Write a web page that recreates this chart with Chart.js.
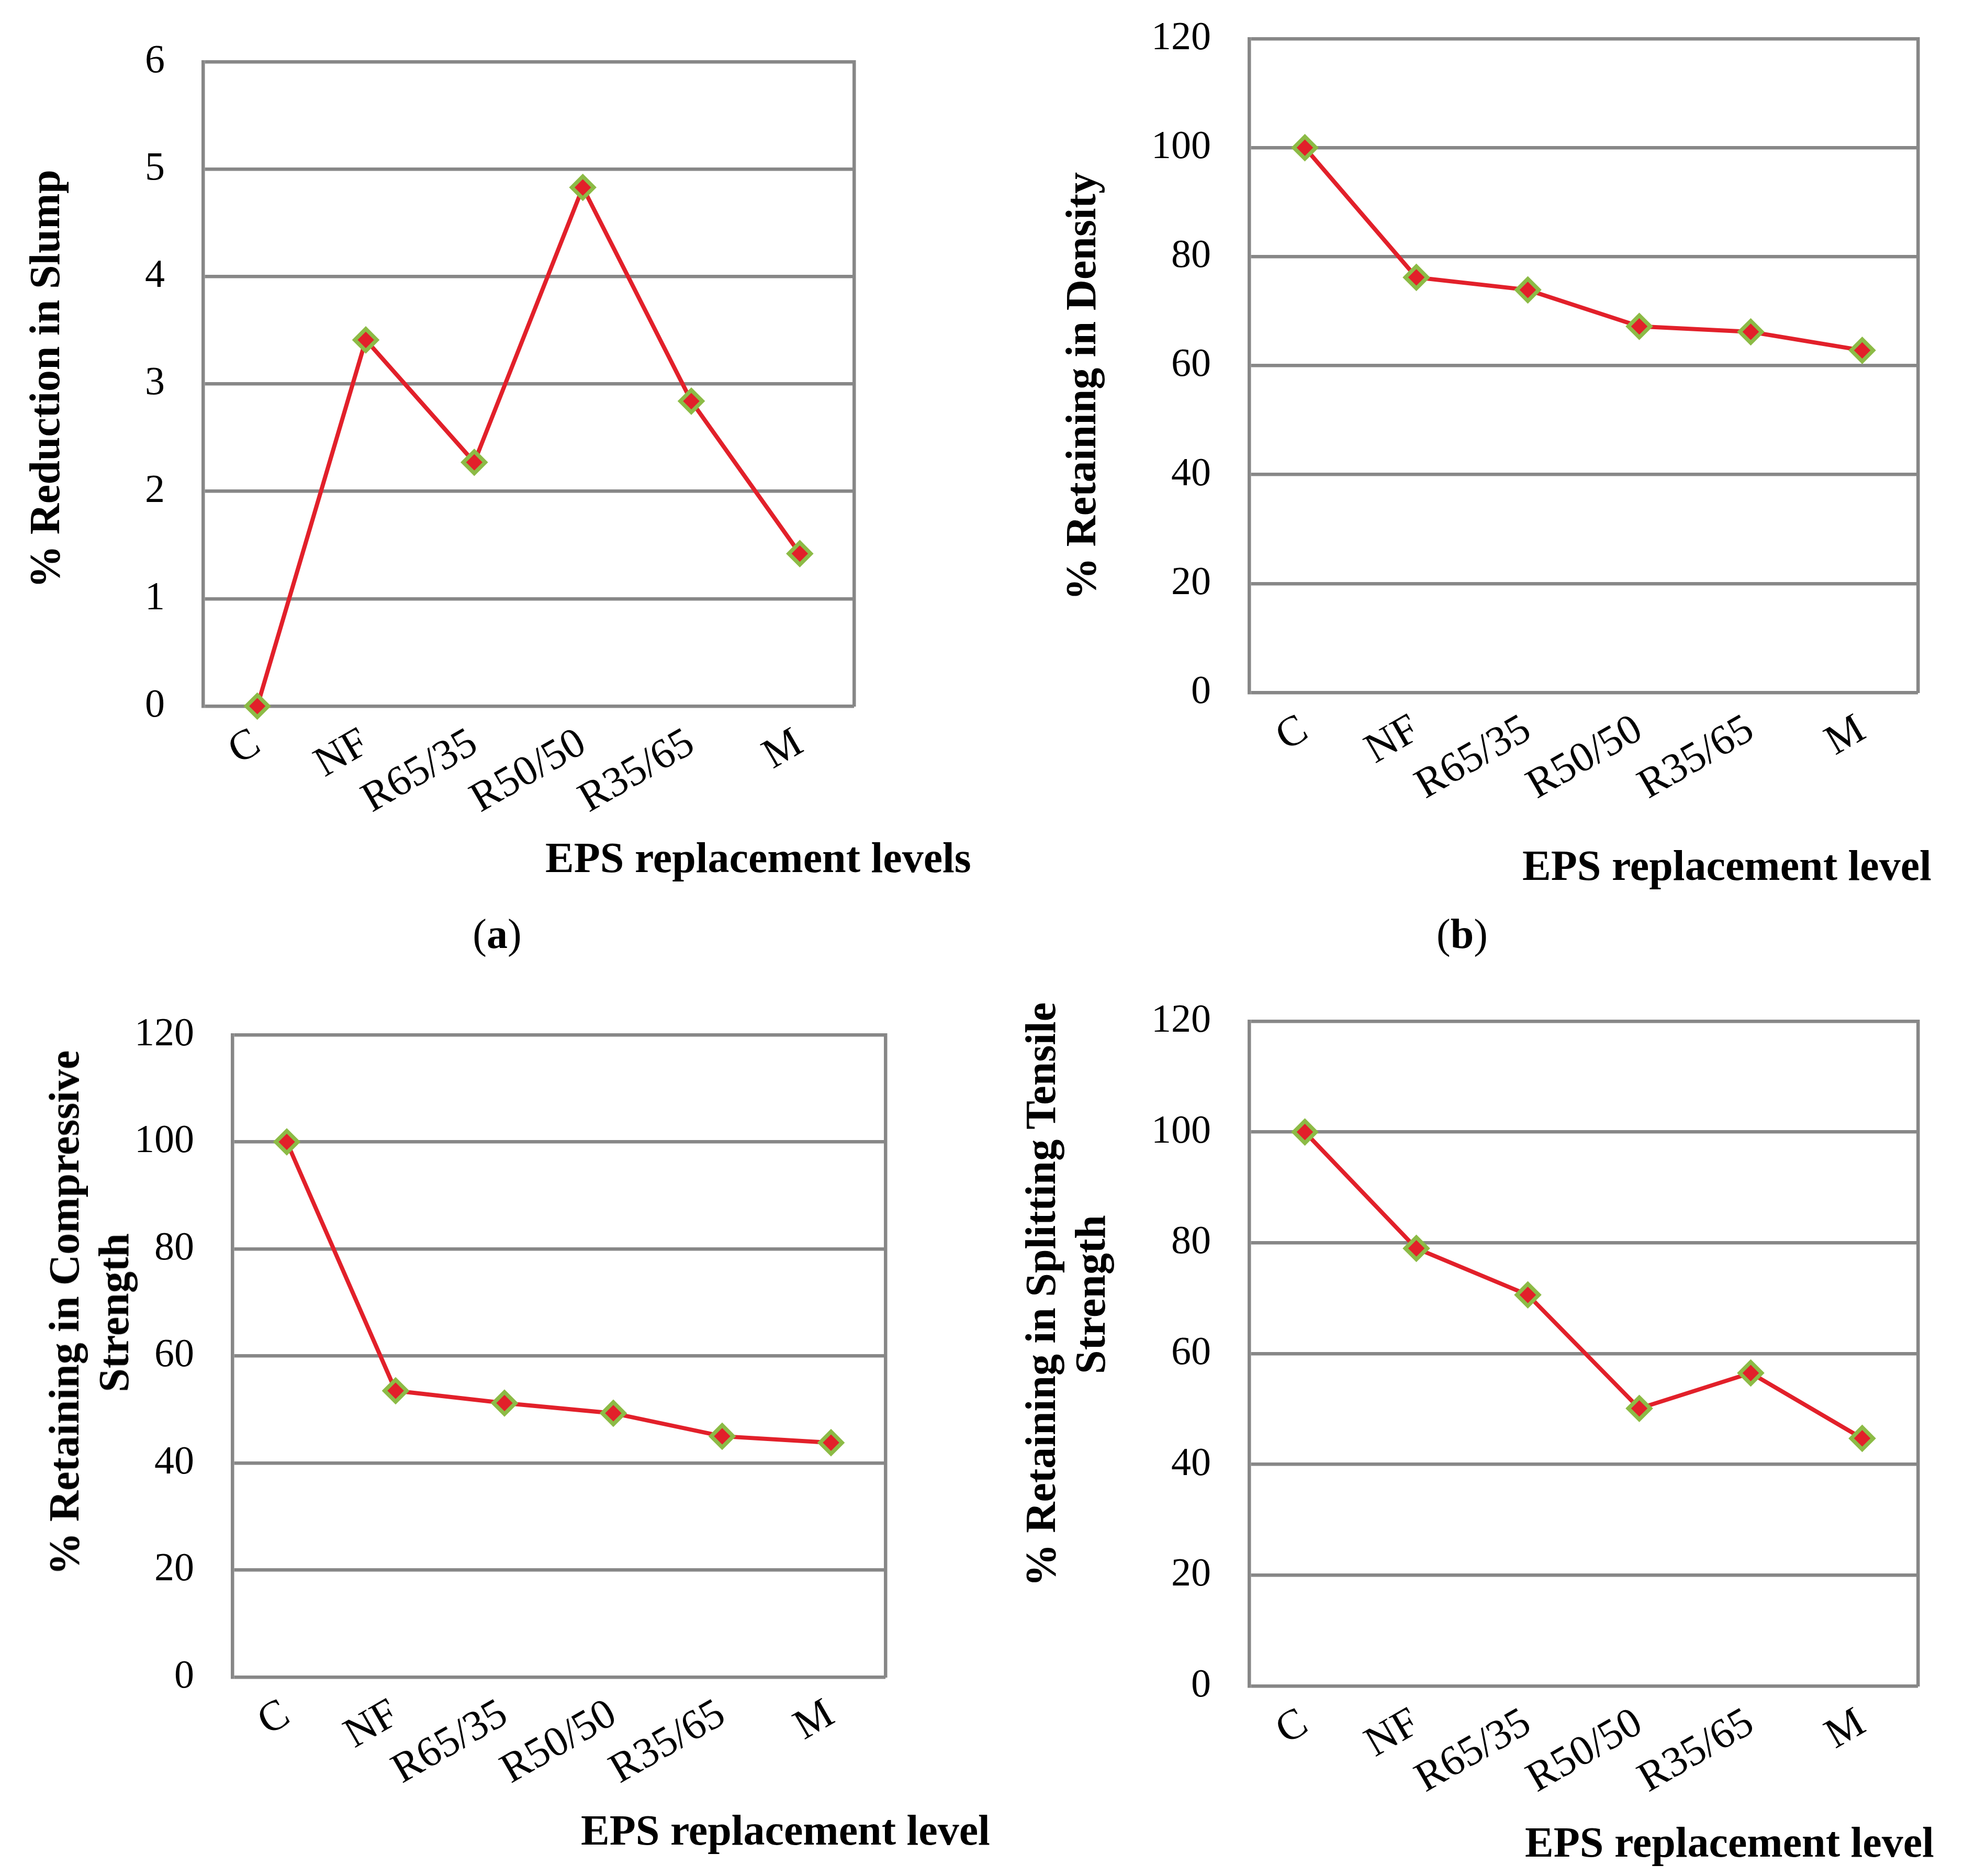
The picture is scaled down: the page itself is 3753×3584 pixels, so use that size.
<!DOCTYPE html>
<html>
<head>
<meta charset="utf-8">
<script src="https://cdn.jsdelivr.net/npm/chart.js@4.4.1/dist/chart.umd.min.js"></script>
<style>
    body { margin: 0; background: #fff; }
    #page { position: relative; width: 3753px; height: 3584px; background: #fff; overflow: hidden; font-family: 'Liberation Serif', serif; color: #000; }
    canvas { position: absolute; }
    .axis-title { position: absolute; font-weight: bold; font-size: 82px; line-height: 95px; white-space: nowrap; text-align: center; }
    .y-title { transform: translate(-50%, -50%) rotate(-90deg); }
    .x-title { transform: translateY(-50%); line-height: 1; }
    .panel-label { position: absolute; font-size: 80px; line-height: 1; transform: translate(-50%, -50%); }
</style>
</head>
<body>
<div id="page">
    <canvas id="chart-a"></canvas>
    <canvas id="chart-b"></canvas>
    <canvas id="chart-c"></canvas>
    <canvas id="chart-d"></canvas>

    <div class="axis-title y-title" style="left:85px; top:724px;">% Reduction in Slump</div>
    <div class="axis-title x-title" style="left:1042px; top:1639px;">EPS replacement levels</div>
    <div class="panel-label" style="left:950px; top:1784px;">(<b>a</b>)</div>

    <div class="axis-title y-title" style="left:2065px; top:738px;">% Retaining in Density</div>
    <div class="axis-title x-title" style="left:2909px; top:1654px;">EPS replacement level</div>
    <div class="panel-label" style="left:2794px; top:1784px;">(<b>b</b>)</div>

    <div class="axis-title y-title" style="left:170px; top:2508px;">% Retaining in Compressive<br>Strength</div>
    <div class="axis-title x-title" style="left:1110px; top:3497px;">EPS replacement level</div>

    <div class="axis-title y-title" style="left:2036px; top:2473px;">% Retaining in Splitting Tensile<br>Strength</div>
    <div class="axis-title x-title" style="left:2914px; top:3520px;">EPS replacement level</div>
</div>

<script>
// data
const categories = ['C', 'NF', 'R65/35', 'R50/50', 'R35/65', 'M'];
const slumpReduction = [0, 3.41, 2.27, 4.83, 2.84, 1.42];
const densityRetained = [100, 76.2, 73.9, 67.2, 66.2, 62.8];
const compressiveRetained = [100, 53.5, 51.2, 49.3, 45.0, 43.8];
const tensileRetained = [100, 79.0, 70.6, 50.1, 56.5, 44.7];

const slumpAxis = { max: 6, step: 1 };
const percentAxis = { max: 120, step: 20 };

const RED = '#e2202a';
const GREEN = '#8cbb46';
const GRID = '#878787';

const Y_AXIS_W = 200;
const X_AXIS_H = 260;
// chart.js adds tick padding to the half label height at the top of the y axis,
// so the top padding has to be bigger than that to stay in control
const PAD_T = 130;
const PAD_R = 40;

Chart.defaults.font.family = "'Liberation Serif', serif";
Chart.defaults.color = '#000';

function renderPanel(id, plot, values, axis) {
    const canvas = document.getElementById(id);
    const left = plot.l - Y_AXIS_W;
    const top = plot.t - PAD_T;
    canvas.style.left = left + 'px';
    canvas.style.top = top + 'px';
    canvas.width = plot.r + PAD_R - left;
    canvas.height = plot.b + X_AXIS_H - top;

    return new Chart(canvas, {
        type: 'line',
        data: {
            labels: categories,
            datasets: [{
                data: values,
                borderColor: RED,
                borderWidth: 8,
                tension: 0,
                fill: false,
                clip: false,
                pointStyle: 'rectRot',
                pointRadius: 21,
                pointBackgroundColor: RED,
                pointBorderColor: GREEN,
                pointBorderWidth: 7.5
            }]
        },
        options: {
            responsive: false,
            animation: false,
            devicePixelRatio: 1,
            layout: { padding: { top: PAD_T, right: PAD_R, left: 0, bottom: 0 } },
            plugins: { legend: { display: false }, tooltip: { enabled: false } },
            scales: {
                x: {
                    type: 'category',
                    offset: true,
                    grid: { display: false, drawTicks: false },
                    border: { display: false },
                    ticks: { autoSkip: false, minRotation: 30, maxRotation: 30, padding: 24, labelOffset: 0, font: { size: 81 } },
                    afterFit: s => { s.height = X_AXIS_H; }
                },
                y: {
                    min: 0,
                    max: axis.max,
                    ticks: { stepSize: axis.step, padding: 73, font: { size: 76 } },
                    grid: { color: GRID, lineWidth: 6.5, drawTicks: false },
                    border: { display: true, color: GRID, width: 6.5 },
                    afterFit: s => { s.width = Y_AXIS_W; }
                },
                y2: {
                    type: 'linear',
                    position: 'right',
                    grid: { display: false, drawTicks: false },
                    ticks: { display: false },
                    border: { display: true, color: GRID, width: 6.5 },
                    afterFit: s => { s.width = 0; }
                }
            }
        }
    });
}

renderPanel('chart-a', { l: 388, t: 118, r: 1632, b: 1349 }, slumpReduction, slumpAxis);
renderPanel('chart-b', { l: 2387, t: 74, r: 3665, b: 1323 }, densityRetained, percentAxis);
renderPanel('chart-c', { l: 444, t: 1977, r: 1692, b: 3204 }, compressiveRetained, percentAxis);
renderPanel('chart-d', { l: 2387, t: 1951, r: 3665, b: 3221 }, tensileRetained, percentAxis);
</script>
</body>
</html>
